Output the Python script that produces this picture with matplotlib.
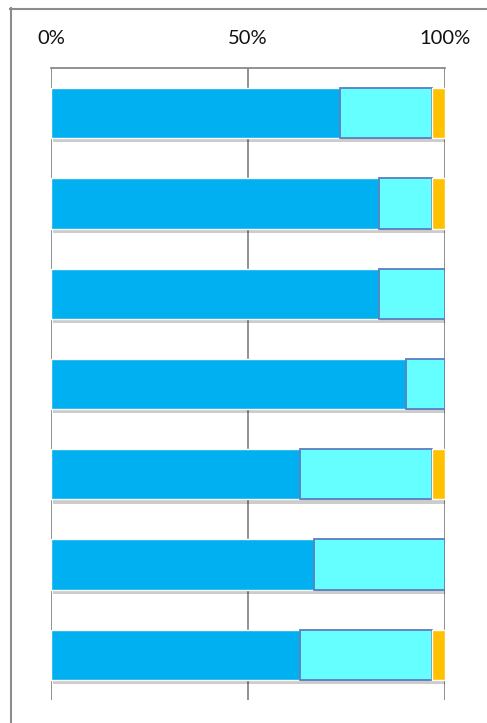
import matplotlib
matplotlib.use("Agg")
import matplotlib.pyplot as plt
import matplotlib.patheffects as pe
from matplotlib.lines import Line2D
import numpy as np

# Data (percent shares; each row sums to 100)
categories = ["1", "2", "3", "4", "5", "6", "7"]
series_a = [73.3, 83.3, 83.3, 90.0, 63.3, 66.7, 63.3]   # dark blue
series_b = [23.3, 13.3, 16.7, 10.0, 33.3, 33.3, 33.3]   # cyan
series_c = [3.3, 3.3, 0.0, 0.0, 3.3, 0.0, 3.3]          # orange
tick_vals = [0, 50, 100]
tick_labels = ["0%", "50%", "100%"]

W, H = 487, 723
fig = plt.figure(figsize=(W / 100, H / 100), dpi=100)
fig.patch.set_facecolor("white")

left, right, top, bottom = 51, 445, 68, 700
ax = fig.add_axes([left / W, 1 - bottom / H, (right - left) / W, (bottom - top) / H])

y = np.arange(len(categories))
shadow = [pe.SimplePatchShadow(offset=(1.5, -3), shadow_rgbFace="#000000", alpha=0.2), pe.Normal()]
h = 50 / 90
a = np.array(series_a)
b = np.array(series_b)
c = np.array(series_c)
ax.barh(y, a, height=h, color="#00B0F0", edgecolor="white", linewidth=1.0, zorder=3, path_effects=shadow)
ax.barh(y, b, left=a, height=h, color="#66FFFF", edgecolor="#5A7EC0", linewidth=1.3, zorder=3, path_effects=shadow)
mask = c > 0
ax.barh(y[mask], c[mask], left=(a + b)[mask], height=h, color="#FFC000", edgecolor="white", linewidth=1.0, zorder=3, path_effects=shadow)

ax.set_xlim(0, 100)
ax.set_ylim(len(categories) - 0.5, -0.5)
ax.set_xticks(tick_vals)
ax.set_xticklabels(tick_labels, fontsize=14.5, fontfamily="Lato", color="#111111")
ax.xaxis.tick_top()
ax.tick_params(axis="x", length=0, pad=15)
ax.set_yticks([])
for v in tick_vals:
    ax.axvline(v, color="#7f7f7f", linewidth=1.2, zorder=1)
for s in ["left", "right", "bottom"]:
    ax.spines[s].set_visible(False)
ax.spines["top"].set_color("#7f7f7f")
ax.spines["top"].set_linewidth(1.2)

# outer border (left and top only visible)
fig.add_artist(Line2D([10.5 / W, 10.5 / W], [0, 1 - 8 / H], transform=fig.transFigure, color="#8c8c8c", linewidth=1.5))
fig.add_artist(Line2D([10 / W, 1], [1 - 8.5 / H, 1 - 8.5 / H], transform=fig.transFigure, color="#8c8c8c", linewidth=1.5))

fig.savefig("out.png", dpi=100, facecolor="white")
